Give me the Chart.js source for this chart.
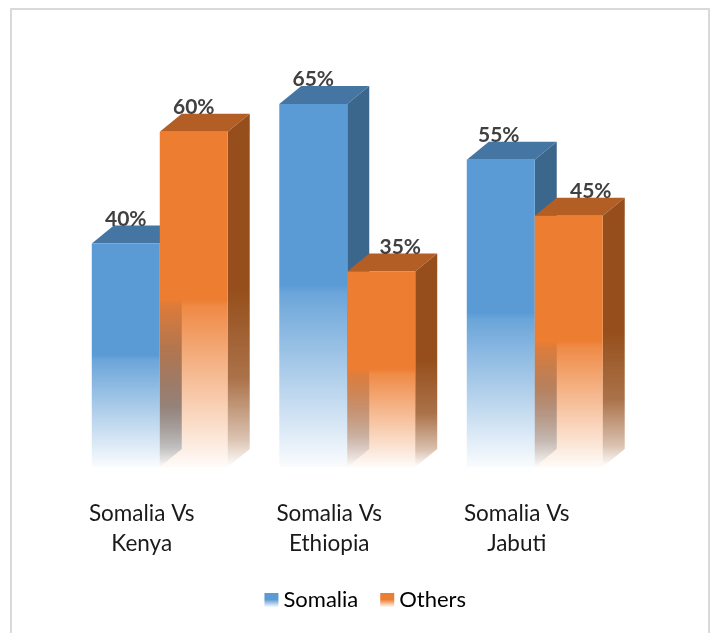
<!DOCTYPE html>
<html>
<head>
<meta charset="utf-8">
<style>
  html, body { margin: 0; padding: 0; background: #fff; }
  #frame { position: absolute; left: 10px; top: 8px; width: 696px; height: 660px; border: 2px solid #d9d9d9; }
  #wrap { position: absolute; left: 0; top: 0; width: 713px; height: 633px; overflow: hidden; }
  canvas { position: absolute; left: 0; top: 0; }
</style>
<script src="https://cdn.jsdelivr.net/npm/chart.js@4"></script>
</head>
<body>
<div id="wrap">
  <div id="frame"></div>
  <canvas id="chart" width="713" height="633"></canvas>
</div>
<script>
const categories = [["Somalia Vs", "Kenya"], ["Somalia Vs", "Ethiopia"], ["Somalia Vs", "Jabuti"]];
const seriesNames = ["Somalia", "Others"];
const somalia = [40, 65, 55];
const others = [60, 35, 45];
const yMax = 70;

const depthX = 22;
const depthY = 18;
const swatch = 14;
const legendShift = 18;

// the two short orange labels sit over the side wall in the original
const labelShift = [[0, 0, -2], [0, 19, 22]];

function rgba(c, a) {
  return `rgba(${c[0]},${c[1]},${c[2]},${a})`;
}

function fadeGradient(ctx, top, bottom, c) {
  const g = ctx.createLinearGradient(0, top, 0, bottom);
  g.addColorStop(0, rgba(c, 1));
  g.addColorStop(0.5, rgba(c, 1));
  g.addColorStop(0.52, rgba(c, 0.9));
  g.addColorStop(1, rgba(c, 0.03));
  return g;
}

function sideGradient(ctx, top, bottom, c) {
  const g = ctx.createLinearGradient(0, top, 0, bottom);
  g.addColorStop(0, rgba(c, 1));
  g.addColorStop(0.5, rgba(c, 1));
  g.addColorStop(0.75, rgba(c, 0.8));
  g.addColorStop(0.92, rgba(c, 0.35));
  g.addColorStop(1, rgba(c, 0));
  return g;
}

function frontFill(c) {
  return function (context) {
    const chart = context.chart;
    if (!chart.chartArea || context.parsed === undefined) return rgba(c, 1);
    const y = chart.scales.y;
    return fadeGradient(chart.ctx, y.getPixelForValue(context.parsed.y), y.getPixelForValue(0), c);
  };
}

const faces = [
  { front: [91, 155, 213], side: [60, 103, 140], top: [68, 117, 163] },
  { front: [237, 125, 49], side: [150, 79, 28], top: [178, 94, 36] }
];

function drawBox(ctx, bar, face) {
  const left = bar.x - bar.width / 2;
  const right = bar.x + bar.width / 2;
  // top face
  ctx.fillStyle = rgba(face.top, 1);
  ctx.beginPath();
  ctx.moveTo(left, bar.y);
  ctx.lineTo(left + depthX, bar.y - depthY);
  ctx.lineTo(right + depthX, bar.y - depthY);
  ctx.lineTo(right, bar.y);
  ctx.closePath();
  ctx.fill();
  // side face
  ctx.fillStyle = sideGradient(ctx, bar.y - depthY, bar.base, face.side);
  ctx.beginPath();
  ctx.moveTo(right, bar.y);
  ctx.lineTo(right + depthX, bar.y - depthY);
  ctx.lineTo(right + depthX, bar.base - depthY);
  ctx.lineTo(right, bar.base);
  ctx.closePath();
  ctx.fill();
}

// fronts go through the library's bar draw, left series first so the right one sits over it
const box3d = {
  id: "box3d",
  beforeDatasetDraw() {
    return false;
  },
  afterLayout(chart) {
    chart.legend.left += legendShift;
    chart.legend.right += legendShift;
  },
  afterDatasetsDraw(chart) {
    const ctx = chart.ctx;
    chart.data.datasets.forEach((ds, i) => {
      const meta = chart.getDatasetMeta(i);
      ctx.save();
      meta.data.forEach(bar => drawBox(ctx, bar, faces[i]));
      meta.controller.draw();
      ctx.restore();
    });
    ctx.save();
    ctx.font = "bold 21px Lato";
    ctx.fillStyle = "#404040";
    ctx.textAlign = "center";
    ctx.textBaseline = "alphabetic";
    chart.data.datasets.forEach((ds, i) => {
      chart.getDatasetMeta(i).data.forEach((bar, j) => {
        ctx.fillText(ds.data[j] + "%", bar.x + labelShift[i][j], bar.y - 18);
      });
    });
    ctx.restore();
  },
  afterDraw(chart) {
    // legend swatches carry the same fade as the bars
    const ctx = chart.ctx;
    chart.legend.legendHitBoxes.forEach((box, i) => {
      const top = box.top + (box.height - swatch) / 2;
      ctx.fillStyle = fadeGradient(ctx, top, top + swatch, faces[i].front);
      ctx.fillRect(box.left, top, swatch, swatch);
    });
  }
};

new Chart(document.getElementById("chart"), {
  type: "bar",
  data: {
    labels: categories,
    datasets: [
      { label: seriesNames[0], data: somalia, backgroundColor: frontFill(faces[0].front) },
      { label: seriesNames[1], data: others, backgroundColor: frontFill(faces[1].front) }
    ]
  },
  options: {
    responsive: false,
    animation: false,
    categoryPercentage: 0.725,
    barPercentage: 1,
    layout: { padding: { left: 66, right: 84.5, top: 76, bottom: 12 } },
    scales: {
      x: {
        grid: { display: false },
        border: { display: false },
        afterFit(scale) {
          scale.height = 100;
        },
        ticks: {
          color: "#1a1a1a",
          font: { family: "Lato", size: 22.5, lineHeight: 1.33 },
          padding: 24,
          labelOffset: -18,
          maxRotation: 0,
          autoSkip: false
        }
      },
      y: { display: false, min: 0, max: yMax }
    },
    plugins: {
      tooltip: { enabled: false },
      legend: {
        position: "bottom",
        labels: {
          color: "#1a1a1a",
          font: { family: "Lato", size: 22 },
          boxWidth: 8,
          boxHeight: 14,
          padding: 22,
          generateLabels(chart) {
            return chart.data.datasets.map((ds, i) => ({
              text: ds.label,
              fillStyle: "transparent",
              strokeStyle: "transparent",
              lineWidth: 0,
              datasetIndex: i
            }));
          }
        }
      }
    }
  },
  plugins: [box3d]
});
</script>
</body>
</html>
